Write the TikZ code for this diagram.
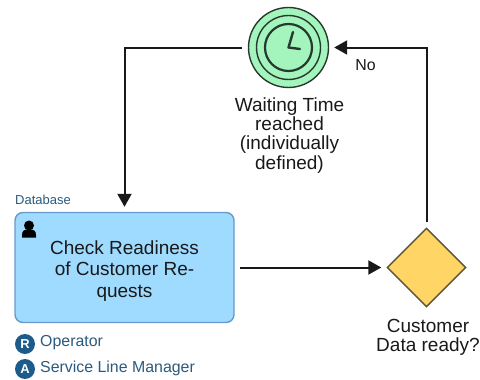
\documentclass[tikz,border=0pt]{standalone}
\usepackage{fontspec}
\setmainfont{Liberation Sans}
\usetikzlibrary{arrows.meta,shapes.geometric}
\definecolor{lanetext}{HTML}{2B5A7E}
\definecolor{roleblue}{HTML}{1D5B8A}
\definecolor{taskfill}{HTML}{9FDBFF}
\definecolor{taskline}{HTML}{6699CC}
\definecolor{clockfill}{HTML}{A4F5BD}
\definecolor{clockline}{HTML}{26392E}
\definecolor{gatefill}{HTML}{FFD566}
\definecolor{gateline}{HTML}{5F5230}
\tikzset{
  flow/.style={draw=black!90,line width=2pt,-{Triangle[length=13pt,width=14pt]},shorten <=5.5pt,shorten >=5pt},
  body/.style={font=\fontsize{19}{19.3}\selectfont,align=center,text=black!90,inner sep=0pt},
  rolebadge/.style={circle,fill=roleblue,text=white,minimum size=20pt,inner sep=0pt,font=\fontsize{13}{13}\selectfont\bfseries},
  roletext/.style={anchor=west,text=lanetext,font=\fontsize{15.9}{16}\selectfont,inner sep=0pt},
  ring/.style={draw=clockline,circle,inner sep=0pt}
}
\begin{document}
\begin{tikzpicture}[x=1pt,y=-1pt]
\useasboundingbox (0,0) rectangle (480,380);
\node[ring,fill=clockfill,line width=1.4pt,minimum size=80pt] (clock) at (288.5,47.5) {};
\node[ring,line width=1.4pt,minimum size=64pt] (clockmid) at (clock.center) {};
\node[ring,line width=2.2pt,minimum size=47pt] (clockin) at (clock.center) {};
\coordinate (hhand) at (293,32);
\coordinate (mhand) at (300,49);
\draw[clockline,line width=2.4pt,line cap=round,line join=round] (hhand) -- (clock.center) -- (mhand);
\node[body] (clocklabel) at (289.5,135.3) {Waiting Time\\reached\\(individually\\defined)};
\node[draw=taskline,fill=taskfill,line width=1.4pt,rounded corners=8pt,minimum width=219pt,minimum height=110pt,inner sep=0pt] (task) at (124.5,267.5) {};
\node[body,font=\fontsize{19}{21.5}\selectfont] (tasklabel) at (124.5,271) {Check Readiness\\of Customer Re-\\quests};
\node[anchor=west,text=lanetext,font=\fontsize{13}{13}\selectfont,inner sep=0pt] (lane) at (15,200) {Database};
\fill[black] (29,225.5) circle (5pt);
\fill[black] (22,237.5) -- (22,235) .. controls (22,230) and (25,229.5) .. (29,229.5) .. controls (33,229.5) and (36,230) .. (36,235) -- (36,237.5) -- cycle;
\node[diamond,aspect=1,draw=gateline,fill=gatefill,line width=1.4pt,minimum width=79pt,minimum height=79pt,inner sep=0pt] (gate) at (426.5,267.5) {};
\node[body] (gatelabel) at (428,337.5) {Customer\\Data ready?};
\node[font=\fontsize{15.9}{16}\selectfont,text=black!90,inner sep=0pt] (nolabel) at (365.5,65.5) {No};
\node[rolebadge] (badgeR) at (25,344) {R};
\node[rolebadge] (badgeA) at (25,369) {A};
\node[roletext] (roleR) at (40,343) {Operator};
\node[roletext] (roleA) at (40,368.5) {Service Line Manager};
\draw[flow] (clock.west) -| (task.north);
\draw[flow] (gate.north) |- (clock.east);
\draw[flow] (task.east) -- (gate.west);
\end{tikzpicture}
\end{document}
